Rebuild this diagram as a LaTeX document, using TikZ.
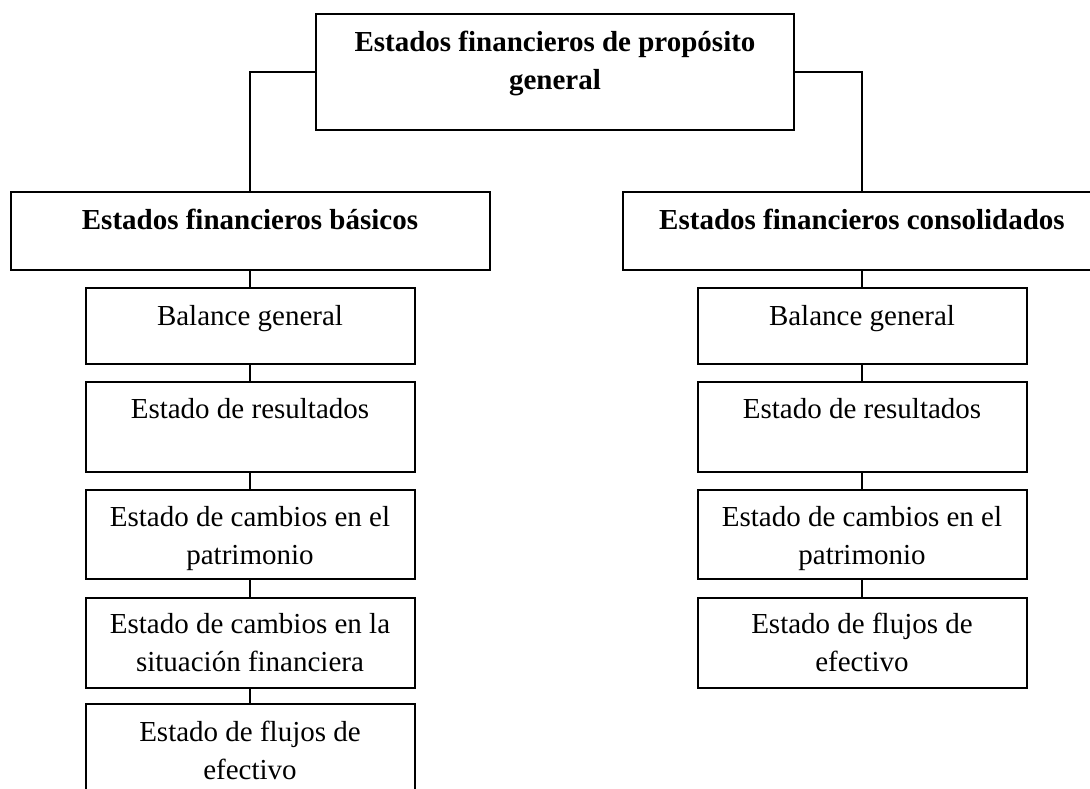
\documentclass[tikz,border=0pt]{standalone}
\usepackage{fontspec}
\setmainfont{Liberation Serif}
\tikzset{
  box/.style={draw=black, line width=2pt, inner sep=0pt, anchor=north west, fill=none},
  conn/.style={draw=black, line width=2pt},
  lbl/.style={anchor=base, inner sep=0pt, font=\fontsize{29}{38}\selectfont},
  hd/.style={lbl, font=\fontsize{29}{38}\selectfont\bfseries}
}
\newcommand{\twoln}[3]{\parbox[t]{#1}{\centering #2\\#3}}
\begin{document}
\begin{tikzpicture}[x=1pt,y=-1pt]
\useasboundingbox (0,0) rectangle (1090,788);
\fill[white] (0,0) rectangle (1090,788);
\clip (0,0) rectangle (1090,788);
% top box
\node[box, minimum width=478pt, minimum height=116.6pt] (top) at (315,12.7) {};
\node[hd] (topt) at ([yshift=-39pt]top.north) {\twoln{470pt}{Estados financieros de propósito}{general}};
% middle boxes
\node[box, minimum width=479pt, minimum height=78.3pt] (lm) at (9.5,191) {};
\node[hd] (lmt) at ([yshift=-38.3pt]lm.north) {Estados financieros básicos};
\node[box, minimum width=479pt, minimum height=78.3pt] (rm) at (621.5,191) {};
\node[hd] (rmt) at ([yshift=-38.3pt]rm.north) {Estados financieros consolidados};
% left children
\node[box, minimum width=329pt, minimum height=75.4pt] (l1) at (84.5,287.3) {};
\node[lbl] (l1t) at ([yshift=-37.7pt]l1.north) {Balance general};
\node[box, minimum width=329pt, minimum height=89.7pt] (l2) at (84.5,381) {};
\node[lbl] (l2t) at ([yshift=-37.3pt]l2.north) {Estado de resultados};
\node[box, minimum width=329pt, minimum height=89.3pt] (l3) at (84.5,489) {};
\node[lbl] (l3t) at ([yshift=-37pt]l3.north) {\twoln{325pt}{Estado de cambios en el}{patrimonio}};
\node[box, minimum width=329pt, minimum height=90pt] (l4) at (84.5,596.7) {};
\node[lbl] (l4t) at ([yshift=-36.8pt]l4.north) {\twoln{325pt}{Estado de cambios en la}{situación financiera}};
\node[box, minimum width=329pt, minimum height=110pt] (l5) at (84.5,703.3) {};
\node[lbl] (l5t) at ([yshift=-38.2pt]l5.north) {\twoln{325pt}{Estado de flujos de}{efectivo}};
% right children
\node[box, minimum width=329pt, minimum height=75.4pt] (r1) at (696.5,287.3) {};
\node[lbl] (r1t) at ([yshift=-37.7pt]r1.north) {Balance general};
\node[box, minimum width=329pt, minimum height=89.7pt] (r2) at (696.5,381) {};
\node[lbl] (r2t) at ([yshift=-37.3pt]r2.north) {Estado de resultados};
\node[box, minimum width=329pt, minimum height=89.3pt] (r3) at (696.5,489) {};
\node[lbl] (r3t) at ([yshift=-37pt]r3.north) {\twoln{325pt}{Estado de cambios en el}{patrimonio}};
\node[box, minimum width=329pt, minimum height=90pt] (r4) at (696.5,596.7) {};
\node[lbl] (r4t) at ([yshift=-36.8pt]r4.north) {\twoln{325pt}{Estado de flujos de}{efectivo}};
% connectors
\draw[conn] (top.west) -| (lm.north);
\draw[conn] (top.east) -| (rm.north);
\draw[conn] (lm.south) -- (l1.north);
\draw[conn] (l1.south) -- (l2.north);
\draw[conn] (l2.south) -- (l3.north);
\draw[conn] (l3.south) -- (l4.north);
\draw[conn] (l4.south) -- (l5.north);
\draw[conn] (rm.south) -- (r1.north);
\draw[conn] (r1.south) -- (r2.north);
\draw[conn] (r2.south) -- (r3.north);
\draw[conn] (r3.south) -- (r4.north);
\end{tikzpicture}
\end{document}
